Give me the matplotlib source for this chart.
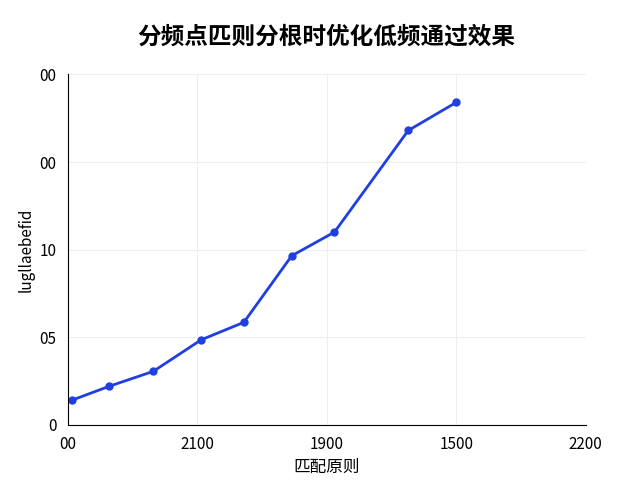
import matplotlib.pyplot as plt

plt.rcParams['font.family'] = ['Noto Sans CJK SC', 'DejaVu Sans']

x = [0.03, 0.32, 0.66, 1.03, 1.36, 1.73, 2.06, 2.63, 3.0]
y = [0.28, 0.44, 0.61, 0.97, 1.17, 1.93, 2.20, 3.36, 3.68]
xticks = [0, 1, 2, 3, 4]
xticklabels = ["00", "2100", "1900", "1500", "2200"]
yticks = [0, 1, 2, 3, 4]
yticklabels = ["0", "05", "10", "00", "00"]

fig, ax = plt.subplots(figsize=(6.4, 4.8), dpi=100)
ax.plot(x, y, color="#1f3fe0", lw=2, marker="o", ms=5)
ax.set_xlim(0, 4)
ax.set_ylim(0, 4)
ax.set_xticks(xticks)
ax.set_xticklabels(xticklabels)
ax.set_yticks(yticks)
ax.set_yticklabels(yticklabels)
ax.grid(color="#eeeeee", lw=0.8)
ax.tick_params(length=0, labelsize=11, pad=8)
for s in ["top", "right"]:
    ax.spines[s].set_visible(False)
ax.set_xlabel("匹配原则", fontsize=12)
ax.set_ylabel("lugllaebefid", fontsize=11)
ax.set_title("分频点匹则分根时优化低频通过效果", fontsize=17, fontweight="bold", pad=22)
fig.subplots_adjust(left=0.106, right=0.915, top=0.845, bottom=0.115)
fig.savefig("out.png")
